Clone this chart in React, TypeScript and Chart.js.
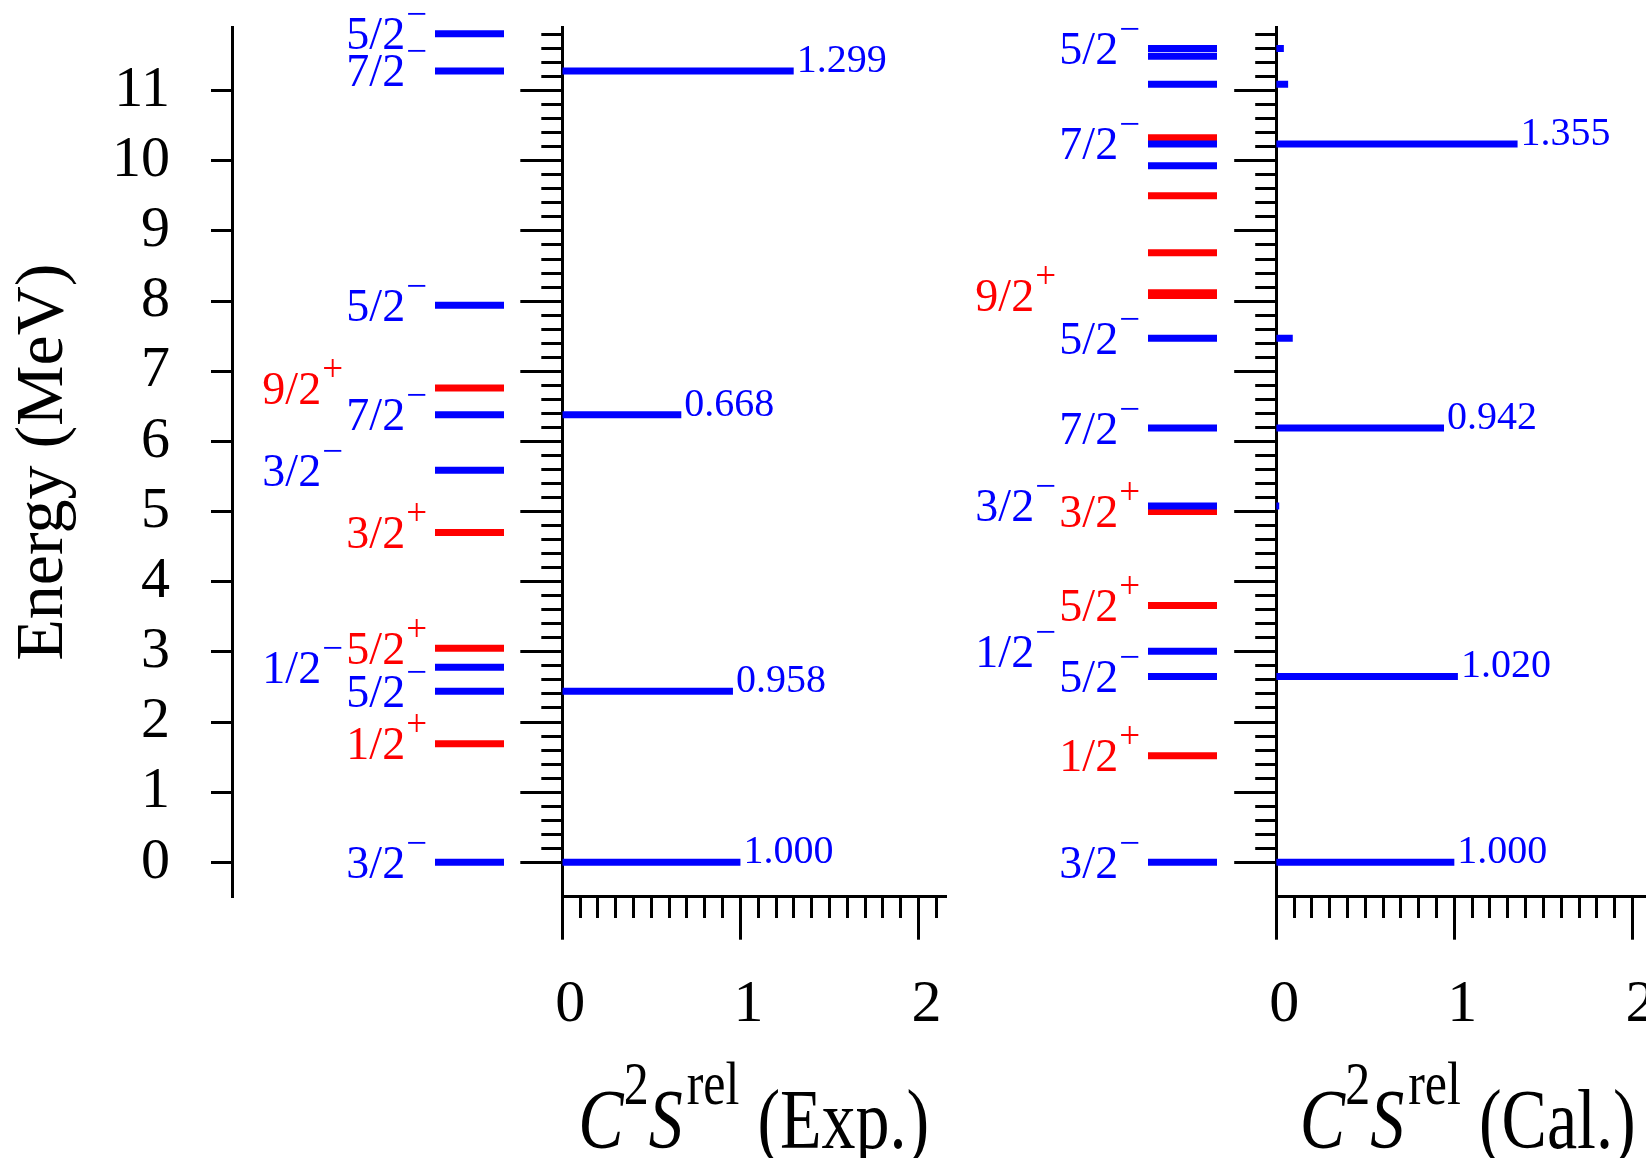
import React, { useEffect, useRef } from 'react';
import { Chart, registerables } from 'chart.js';

Chart.register(...registerables);

// ---------------- data ----------------
const energyTickValues = [0, 1, 2, 3, 4, 5, 6, 7, 8, 9, 10, 11];
const energyTickLabels = ['0', '1', '2', '3', '4', '5', '6', '7', '8', '9', '10', '11'];
const sfTickValues = [0, 1, 2];
const sfTickLabels = ['0', '1', '2'];

// Experimental levels (MeV), parity, spin label, label column (0 = next to level, 1 = shifted out)
const expEnergies = [0.0, 1.69, 2.44, 2.78, 3.05, 4.7, 5.59, 6.38, 6.76, 7.94, 11.28, 11.81];
const expParities = ['-', '+', '-', '-', '+', '+', '-', '-', '+', '-', '-', '-'];
const expSpins = ['3/2', '1/2', '5/2', '1/2', '5/2', '3/2', '3/2', '7/2', '9/2', '5/2', '7/2', '5/2'];
const expLabelColumn = [0, 0, 0, 1, 0, 0, 1, 0, 1, 0, 0, 0];

// Experimental relative spectroscopic factors
const expSfEnergies = [0.0, 2.44, 6.38, 11.28];
const expSfValues = [1.0, 0.958, 0.668, 1.299];

// Calculated levels
const calEnergies = [0.0, 1.52, 2.65, 3.01, 3.66, 5.0, 5.08, 6.19, 7.47, 8.08, 8.12, 8.69, 9.5, 9.93, 10.24, 10.33, 11.09, 11.49, 11.6];
const calParities = ['-', '+', '-', '-', '+', '+', '-', '-', '-', '+', '+', '+', '+', '-', '-', '+', '-', '-', '-'];
const calSpins = ['3/2', '1/2', '5/2', '1/2', '5/2', '3/2', '3/2', '7/2', '5/2', '9/2', '', '', '', '', '7/2', '', '', '', '5/2'];
const calLabelColumn = [0, 0, 0, 1, 0, 0, 1, 0, 0, 1, 0, 0, 0, 0, 0, 0, 0, 0, 0];

// Calculated relative spectroscopic factors
const calSfEnergies = [0.0, 2.65, 5.08, 6.19, 7.47, 10.24, 11.09, 11.6];
const calSfValues = [1.0, 1.02, 0.017, 0.942, 0.093, 1.355, 0.067, 0.043];

// ---------------- style / layout ----------------
const FONT = "'Liberation Serif', 'Times New Roman', Times, serif";
const BLUE = '#0000ff';
const RED = '#ff0000';
const BLACK = '#000000';
const PAGE_W = 1646;
const PAGE_H = 1158;
const PLOT_TOP = 27.5;
const PLOT_BOTTOM = 896.7;
const E_MIN = -0.49;
const E_MAX = 11.9;
const SF_MAX = 2.15;
const SF_AXIS_PX = 383;
const LEVEL_PX = 69;

const isMajor = (v: number) => Math.abs(v - Math.round(v)) < 1e-6;
const minorE = Array.from({ length: 60 }, (_, k) => Math.round(k * 2) / 10);
const minorSf = Array.from({ length: 22 }, (_, k) => k / 10);

function levelDatasets(energies: number[], parities: string[]) {
  return energies.map((e, i) => ({
    data: [{ x: 0, y: e }, { x: 1, y: e }],
    borderColor: parities[i] === '+' ? RED : BLUE,
    backgroundColor: parities[i] === '+' ? RED : BLUE,
    borderWidth: 7,
    pointRadius: 0,
    fill: false,
    order: parities[i] === '+' ? 1 : 0,
  }));
}

function sfDatasets(energies: number[], values: number[]) {
  return energies.map((e, i) => ({
    data: [{ x: 0, y: e }, { x: values[i], y: e }],
    borderColor: BLUE,
    backgroundColor: BLUE,
    borderWidth: 7,
    pointRadius: 0,
    fill: false,
  }));
}

function levelLabelPlugin(energies: number[], parities: string[], spins: string[], cols: number[]) {
  return {
    id: 'levelLabels',
    afterDatasetsDraw(chart: any) {
      const { ctx } = chart;
      const xs = chart.scales.x;
      const ys = chart.scales.y;
      const x0 = xs.getPixelForValue(0);
      ctx.save();
      ctx.textAlign = 'left';
      ctx.textBaseline = 'alphabetic';
      energies.forEach((e, i) => {
        const spin = spins[i];
        if (!spin) return;
        const right = x0 - (cols[i] ? 92 : 8);
        const yy = ys.getPixelForValue(e);
        const sign = parities[i] === '+' ? '+' : '\u2212';
        ctx.font = `46px ${FONT}`;
        const w1 = ctx.measureText(spin).width;
        ctx.font = `37px ${FONT}`;
        const w2 = ctx.measureText(sign).width;
        const start = right - w1 - w2 - 1;
        ctx.fillStyle = parities[i] === '+' ? RED : BLUE;
        ctx.font = `46px ${FONT}`;
        ctx.fillText(spin, start, yy + 15.5);
        ctx.font = `37px ${FONT}`;
        ctx.fillText(sign, start + w1 + 1, yy + 15.5 - 23);
      });
      ctx.restore();
    },
  };
}

function sfPlugin(energies: number[], values: number[], tail: string) {
  return {
    id: 'sfDecor',
    afterDatasetsDraw(chart: any) {
      const { ctx } = chart;
      const xs = chart.scales.x;
      const ys = chart.scales.y;
      ctx.save();
      ctx.font = `40px ${FONT}`;
      ctx.fillStyle = BLUE;
      ctx.textAlign = 'left';
      ctx.textBaseline = 'alphabetic';
      energies.forEach((e, i) => {
        const v = values[i];
        if (v < 0.3) return;
        ctx.fillText(v.toFixed(3), xs.getPixelForValue(v) + 3, ys.getPixelForValue(e) + 1);
      });
      ctx.restore();
    },
    afterDraw(chart: any) {
      const { ctx, chartArea } = chart;
      const F = 68;
      const f = 50;
      const STRETCH = 1.23;
      const RISE = 36;
      const BASE = 1148;
      const parts = [
        { t: 'C', font: `italic ${F}px ${FONT}`, rise: 0, gap: 0 },
        { t: '2', font: `${f}px ${FONT}`, rise: RISE, gap: 0 },
        { t: 'S', font: `italic ${F}px ${FONT}`, rise: 0, gap: 4 },
        { t: 'rel', font: `${f}px ${FONT}`, rise: RISE, gap: 18 },
        { t: `(${tail})`, font: `${F}px ${FONT}`, rise: 0, gap: 0 },
      ];
      ctx.save();
      const widths = parts.map((p) => {
        ctx.font = p.font;
        return ctx.measureText(p.t).width;
      });
      const total = widths.reduce((a, w, i) => a + w + (i < parts.length - 1 ? parts[i].gap : 0), 0);
      const cx = (chartArea.left + chartArea.right) / 2;
      ctx.translate(cx - total / 2, BASE);
      ctx.scale(1, STRETCH);
      ctx.fillStyle = BLACK;
      ctx.textAlign = 'left';
      ctx.textBaseline = 'alphabetic';
      let x = 0;
      parts.forEach((p, i) => {
        ctx.font = p.font;
        ctx.fillText(p.t, x, -p.rise);
        x += widths[i] + p.gap;
      });
      ctx.restore();
    },
  };
}

const commonPlugins = {
  legend: { display: false },
  tooltip: { enabled: false },
  title: { display: false },
};

function energyAxisChart(canvas: HTMLCanvasElement, width: number) {
  const axisPx = 232;
  const levelStart = 435;
  const xmin = -(levelStart - axisPx) / LEVEL_PX;
  const xmax = xmin + (width - axisPx) / LEVEL_PX;
  return new Chart(canvas, {
    type: 'line',
    data: { datasets: levelDatasets(expEnergies, expParities) as any },
    options: {
      responsive: false,
      animation: false,
      events: [],
      layout: { padding: { top: PLOT_TOP, bottom: PAGE_H - PLOT_BOTTOM, left: 0, right: 0 } },
      plugins: commonPlugins as any,
      scales: {
        x: { type: 'linear', display: false, min: xmin, max: xmax },
        y: {
          type: 'linear',
          min: E_MIN,
          max: E_MAX,
          bounds: 'data',
          afterBuildTicks: (s: any) => {
            s.ticks = energyTickValues.map((v) => ({ value: v }));
          },
          afterFit: (s: any) => {
            s.width = axisPx;
            s.paddingTop = 0;
            s.paddingBottom = 0;
          },
          grid: {
            display: true,
            drawOnChartArea: false,
            drawTicks: true,
            tickLength: 21,
            lineWidth: 3,
            color: BLACK,
            tickColor: BLACK,
          },
          border: { display: true, width: 3, color: BLACK },
          ticks: {
            color: BLACK,
            autoSkip: false,
            padding: 41,
            font: { family: FONT, size: 58 },
            callback: (v: any) => {
              const i = energyTickValues.indexOf(Math.round(Number(v)));
              return i >= 0 ? energyTickLabels[i] : '';
            },
          },
          title: {
            display: true,
            text: 'Energy (MeV)',
            color: BLACK,
            font: { family: FONT, size: 68, lineHeight: 1.1 },
            padding: { top: 7, bottom: 0 },
          },
        } as any,
      },
    },
    plugins: [levelLabelPlugin(expEnergies, expParities, expSpins, expLabelColumn)],
  });
}

function levelChart(canvas: HTMLCanvasElement, width: number, canvasLeft: number, levelStartPage: number) {
  const xmin = -(levelStartPage - canvasLeft) / LEVEL_PX;
  const xmax = xmin + width / LEVEL_PX;
  return new Chart(canvas, {
    type: 'line',
    data: { datasets: levelDatasets(calEnergies, calParities) as any },
    options: {
      responsive: false,
      animation: false,
      events: [],
      layout: { padding: { top: PLOT_TOP, bottom: PAGE_H - PLOT_BOTTOM, left: 0, right: 0 } },
      plugins: commonPlugins as any,
      scales: {
        x: { type: 'linear', display: false, min: xmin, max: xmax },
        y: { type: 'linear', display: false, min: E_MIN, max: E_MAX },
      },
    },
    plugins: [levelLabelPlugin(calEnergies, calParities, calSpins, calLabelColumn)],
  });
}

function sfChart(
  canvas: HTMLCanvasElement,
  width: number,
  yAxisWidth: number,
  energies: number[],
  values: number[],
  tail: string
) {
  const padRight = width - yAxisWidth - SF_AXIS_PX;
  return new Chart(canvas, {
    type: 'line',
    data: { datasets: sfDatasets(energies, values) as any },
    options: {
      responsive: false,
      animation: false,
      events: [],
      layout: { padding: { top: PLOT_TOP, bottom: 0, left: 0, right: padRight } },
      plugins: commonPlugins as any,
      scales: {
        x: {
          type: 'linear',
          position: 'bottom',
          min: 0,
          max: SF_MAX,
          bounds: 'data',
          z: 1,
          afterBuildTicks: (s: any) => {
            s.ticks = minorSf.map((v) => ({ value: v }));
          },
          afterFit: (s: any) => {
            s.height = PAGE_H - PLOT_BOTTOM;
            s.paddingLeft = 0;
            s.paddingRight = 0;
          },
          grid: {
            display: true,
            drawOnChartArea: false,
            drawTicks: true,
            tickLength: 43,
            lineWidth: 3,
            color: BLACK,
            tickColor: BLACK,
            tickBorderDash: (c: any) => (c.tick && isMajor(c.tick.value) ? [] : [20, 60]),
          },
          border: { display: true, width: 3, color: BLACK },
          ticks: {
            color: BLACK,
            autoSkip: false,
            maxRotation: 0,
            minRotation: 0,
            padding: 30,
            labelOffset: 8,
            font: { family: FONT, size: 60 },
            callback: (v: any) => {
              const n = Number(v);
              if (!isMajor(n)) return '';
              const i = sfTickValues.indexOf(Math.round(n));
              return i >= 0 ? sfTickLabels[i] : '';
            },
          },
        } as any,
        y: {
          type: 'linear',
          min: E_MIN,
          max: E_MAX,
          bounds: 'data',
          z: 1,
          afterBuildTicks: (s: any) => {
            s.ticks = minorE.map((v) => ({ value: v }));
          },
          afterFit: (s: any) => {
            s.width = yAxisWidth;
            s.paddingTop = 0;
            s.paddingBottom = 0;
          },
          grid: {
            display: true,
            drawOnChartArea: false,
            drawTicks: true,
            tickLength: 42,
            lineWidth: 3,
            color: BLACK,
            tickColor: BLACK,
            tickBorderDash: (c: any) => (c.tick && isMajor(c.tick.value) ? [] : [20, 21]),
            tickBorderDashOffset: (c: any) => (c.tick && isMajor(c.tick.value) ? 0 : 20),
          },
          border: { display: true, width: 3, color: BLACK },
          ticks: { display: false },
        } as any,
      },
    },
    plugins: [sfPlugin(energies, values, tail)],
  });
}

const A_LEFT = 0, A_W = 515;
const B_LEFT = 515, B_W = 445;
const C_LEFT = 960, C_W = 264;
const D_LEFT = 1224, D_W = 476;

export default function App() {
  const aRef = useRef<HTMLCanvasElement>(null);
  const bRef = useRef<HTMLCanvasElement>(null);
  const cRef = useRef<HTMLCanvasElement>(null);
  const dRef = useRef<HTMLCanvasElement>(null);

  useEffect(() => {
    const charts: Chart[] = [];
    if (aRef.current) charts.push(energyAxisChart(aRef.current, A_W));
    if (bRef.current) charts.push(sfChart(bRef.current, B_W, 562.3 - B_LEFT, expSfEnergies, expSfValues, 'Exp.'));
    if (cRef.current) charts.push(levelChart(cRef.current, C_W, C_LEFT, 1148));
    if (dRef.current) charts.push(sfChart(dRef.current, D_W, 1276.2 - D_LEFT, calSfEnergies, calSfValues, 'Cal.'));
    return () => charts.forEach((c) => c.destroy());
  }, []);

  const cs = (left: number, w: number): React.CSSProperties => ({
    position: 'absolute',
    left,
    top: 0,
    width: w,
    height: PAGE_H,
  });

  return (
    <div
      style={{
        position: 'absolute',
        left: 0,
        top: 0,
        width: PAGE_W,
        height: PAGE_H,
        overflow: 'hidden',
        background: '#ffffff',
      }}
    >
      <canvas ref={aRef} width={A_W} height={PAGE_H} style={cs(A_LEFT, A_W)} />
      <canvas ref={bRef} width={B_W} height={PAGE_H} style={cs(B_LEFT, B_W)} />
      <canvas ref={cRef} width={C_W} height={PAGE_H} style={cs(C_LEFT, C_W)} />
      <canvas ref={dRef} width={D_W} height={PAGE_H} style={cs(D_LEFT, D_W)} />
    </div>
  );
}
